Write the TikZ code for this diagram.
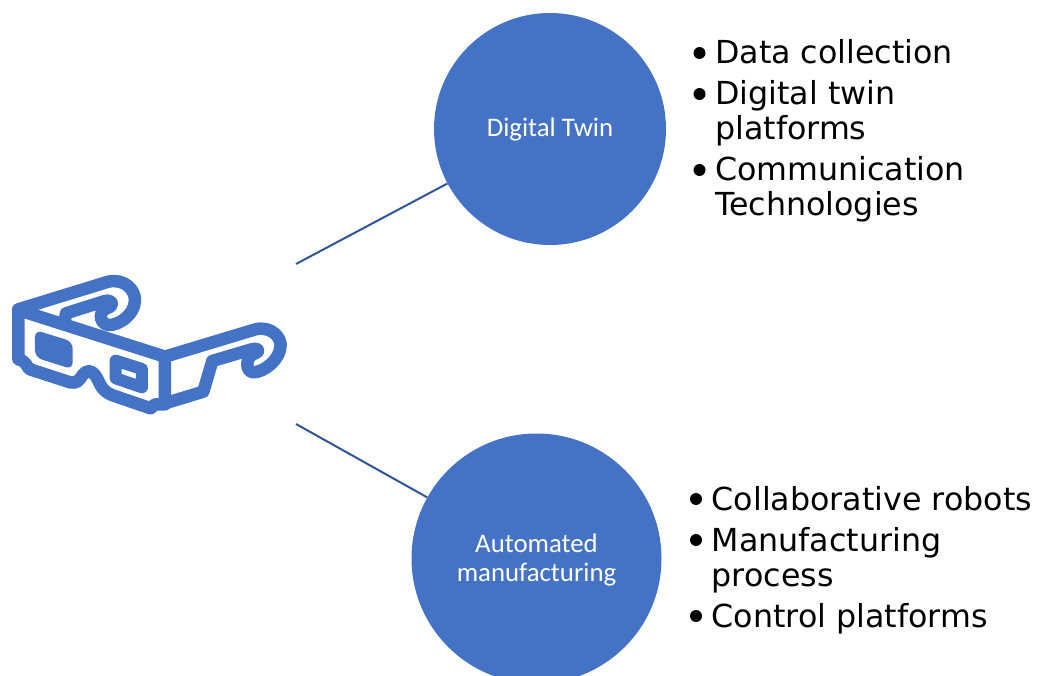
\documentclass[tikz,border=0pt]{standalone}
\usepackage{fontspec}
\setmainfont{DejaVu Sans}
\newfontfamily\calib{Carlito}
\definecolor{blueA}{HTML}{4472C4}
\definecolor{blueB}{HTML}{2F5597}
\tikzset{
  hub/.style={circle,fill=blueA,draw=none,minimum size=#1,inner sep=0pt,text=white,align=center,font=\calib\fontsize{26.8}{29}\selectfont},
  item/.style={anchor=base west,inner sep=0pt,text=black,font=\fontsize{31.7}{35}\selectfont},
  dot/.style={circle,fill=black,minimum size=12pt,inner sep=0pt},
  link/.style={draw=blueB,line width=2pt},
  frame/.style={draw=blueA,line join=round,line cap=round,line width=12.5pt}
}
\begin{document}
\begin{tikzpicture}[x=1pt,y=-1pt]
\useasboundingbox (0,0) rectangle (1037,676);
\clip (0,0) rectangle (1037,676);
\node[hub=232pt] (twin) at (550,129) {\raisebox{-8pt}[0pt][0pt]{Digital Twin}};
\node[hub=250pt] (auto) at (536.5,558.5) {\raisebox{-8pt}[0pt][0pt]{Automated}\\\raisebox{-8pt}[0pt][0pt]{manufacturing}};
\coordinate (glassA) at (296,264);
\coordinate (glassB) at (296,424);
\draw[link] (glassA) -- (twin);
\draw[link] (glassB) -- (auto);
% glasses
\begin{scope}[shift={(0,260)},x=0.3333pt,y=-0.3333pt,yscale=1]
\draw[frame] (55,148) -- (325,65) .. controls (375,55) and (405,90) .. (405,120)
  .. controls (405,165) and (355,197) .. (325,195)
  .. controls (295,190) and (295,150) .. (325,143)
  .. controls (345,135) and (335,118) .. (315,123)
  -- (198,160) -- (195,180);
\draw[frame] (495,290) -- (770,207) .. controls (820,200) and (842,235) .. (842,255)
  .. controls (842,300) and (790,337) .. (760,337)
  .. controls (735,335) and (735,290) .. (765,280)
  .. controls (785,272) and (770,262) .. (755,268)
  -- (637,303) -- (610,395) -- (495,430);
\draw[frame,fill=white] (55,150) -- (495,290) -- (495,433) -- (465,433) -- (452,445) -- (335,405)
  .. controls (300,390) and (300,365) .. (285,345)
  .. controls (275,330) and (258,330) .. (248,345)
  .. controls (235,365) and (230,370) .. (210,367)
  -- (90,328) .. controls (78,320) and (82,305) .. (55,298) -- cycle;
\fill[blueA,rounded corners=7pt] (105,210) -- (218,245) -- (218,328) -- (105,292) -- cycle;
\draw[blueA,line width=12pt,line join=round] (347,302) -- (426,327) -- (426,382) -- (347,355) -- cycle;
\end{scope}
% first list
\node[dot] (b1) at (699.5,53) {};
\node[item] (t1) at (715,64) {Data collection};
\node[dot] (b2) at (699.5,94) {};
\node[item] (t2) at (715,105) {Digital twin};
\node[item] (t3) at (715,140) {platforms};
\node[dot] (b3) at (699.5,170) {};
\node[item] (t4) at (715,181) {Communication};
\node[item] (t5) at (715,216) {Technologies};
% second list
\node[dot] (b4) at (696,499) {};
\node[item] (t6) at (711.5,510) {Collaborative robots};
\node[dot] (b5) at (696,540) {};
\node[item] (t7) at (711.5,551) {Manufacturing};
\node[item] (t8) at (711.5,586) {process};
\node[dot] (b6) at (696,616) {};
\node[item] (t9) at (711.5,627) {Control platforms};
\end{tikzpicture}
\end{document}
